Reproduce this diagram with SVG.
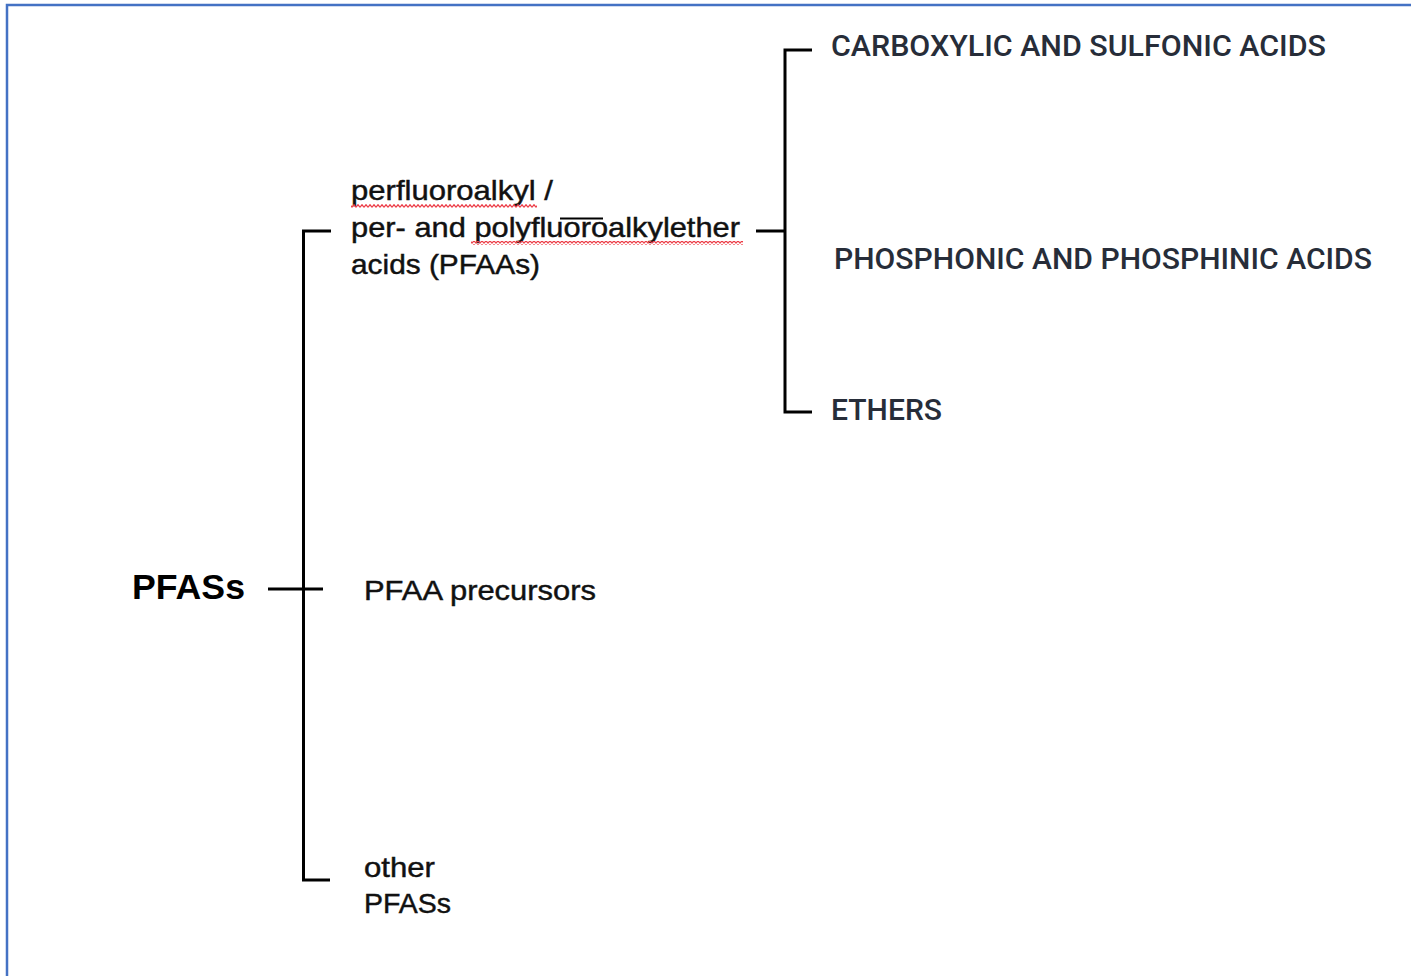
<svg xmlns="http://www.w3.org/2000/svg" width="1411" height="976" viewBox="0 0 1411 976">
  <style>
    .ln { stroke: #000; stroke-width: 3; fill: none; stroke-linecap: butt; }
    .t { font-family: "Liberation Sans", Arial, sans-serif; font-size: 28px; fill: #111; stroke: #111; stroke-width: 0.45; }
    .cap { font-family: Roboto, "Liberation Sans", Arial, sans-serif; font-size: 29px; font-weight: 500; fill: #272d39; }
    .root { font-family: "Liberation Sans", Arial, sans-serif; font-size: 35px; font-weight: bold; fill: #000; }
  </style>
  <defs>
    <pattern id="wave" x="0" y="0" width="4" height="4" patternUnits="userSpaceOnUse">
      <path d="M0,3.3 L2,0.7 L4,3.3" stroke="#ec3c46" stroke-width="1.2" fill="none"/>
    </pattern>
  </defs>
  <rect x="0" y="0" width="1411" height="976" fill="#fff"/>
  <g id="frame">
    <path d="M7,976 V5 H1411" stroke="#4472c4" stroke-width="2.5" fill="none"/>
  </g>
  <g id="connectors">
    <path class="ln" d="M331,231 H303.5 V880 H330"/>
    <path class="ln" d="M268,589 H323"/>
    <path class="ln" d="M812,50 H785 V412 H812"/>
    <path class="ln" d="M756,231 H785"/>
  </g>
  <g id="node-pfass">
    <text class="root" x="132" y="599" textLength="113" lengthAdjust="spacingAndGlyphs">PFASs</text>
  </g>
  <g id="node-pfaas">
    <text class="t" x="351" y="200" textLength="202" lengthAdjust="spacingAndGlyphs">perfluoroalkyl /</text>
    <text class="t" x="351" y="237" textLength="389" lengthAdjust="spacingAndGlyphs">per- and polyfluoroalkylether</text>
    <text class="t" x="351" y="274" textLength="189" lengthAdjust="spacingAndGlyphs">acids (PFAAs)</text>
    <rect x="351" y="204" width="186" height="4" fill="url(#wave)"/>
    <rect x="471" y="241" width="272" height="4" fill="url(#wave)"/>
    <path d="M560,218.5 H603" stroke="#000" stroke-width="2"/>
  </g>
  <g id="node-precursors">
    <text class="t" x="364" y="600" textLength="232" lengthAdjust="spacingAndGlyphs">PFAA precursors</text>
  </g>
  <g id="node-other">
    <text class="t" x="364" y="877" textLength="71" lengthAdjust="spacingAndGlyphs">other</text>
    <text class="t" x="364" y="913" textLength="87" lengthAdjust="spacingAndGlyphs">PFASs</text>
  </g>
  <g id="node-carboxylic">
    <text class="cap" x="831" y="56" textLength="495" lengthAdjust="spacingAndGlyphs">CARBOXYLIC AND SULFONIC ACIDS</text>
  </g>
  <g id="node-phosphonic">
    <text class="cap" x="834" y="269" textLength="538" lengthAdjust="spacingAndGlyphs">PHOSPHONIC AND PHOSPHINIC ACIDS</text>
  </g>
  <g id="node-ethers">
    <text class="cap" x="831" y="420" textLength="111" lengthAdjust="spacingAndGlyphs">ETHERS</text>
  </g>
</svg>
